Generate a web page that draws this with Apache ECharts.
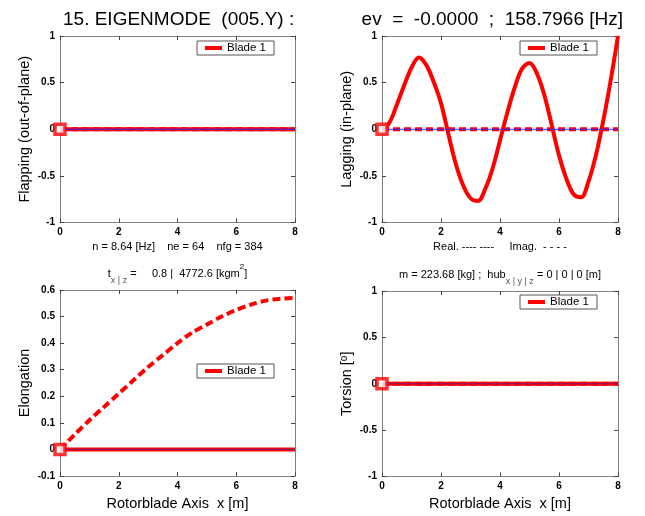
<!DOCTYPE html>
<html>
<head>
<meta charset="utf-8">
<script src="https://cdn.jsdelivr.net/npm/echarts@6/dist/echarts.min.js"></script>
<style>
html,body{margin:0;padding:0;background:#fff;}
#chart{width:645px;height:516px;}
</style>
</head>
<body>
<div id="chart"></div>
<script>
// ---- data ----
const xTicks = [0, 2, 4, 6, 8];
const zeroX = [0, 8];
const zeroY = [0, 0];
const markerX = [0];
const markerY = [0];
// Lagging (in-plane), real part
const lagX = [0, 0.25, 0.5, 0.75, 1.0, 1.25, 1.5, 1.75, 2.0, 2.25, 2.5, 2.75, 3.0, 3.25, 3.5, 3.75, 4.0,
              4.25, 4.5, 4.75, 5.0, 5.25, 5.5, 5.75, 6.0, 6.25, 6.5, 6.75, 7.0, 7.25, 7.5, 7.75, 8.0];
const lagReal = [0, 0.07, 0.26, 0.47, 0.66, 0.77, 0.69, 0.51, 0.28, -0.05, -0.37, -0.60, -0.74, -0.77, -0.64, -0.42, -0.12,
                 0.18, 0.45, 0.65, 0.71, 0.60, 0.37, 0.05, -0.28, -0.53, -0.70, -0.73, -0.56, -0.28, 0.09, 0.52, 1.0];
// Elongation, imaginary part (dashed)
const elongX = [0, 0.5, 1.0, 1.5, 2.0, 2.5, 3.0, 3.5, 4.0, 4.5, 5.0, 5.5, 6.0, 6.5, 7.0, 7.5, 8.0];
const elongImag = [0, 0.056, 0.11, 0.16, 0.21, 0.26, 0.31, 0.355, 0.40, 0.44, 0.47, 0.50, 0.525, 0.545, 0.56, 0.567, 0.57];

const yLabels = ['Flapping (out-of-plane)', 'Lagging (in-plane)', 'Elongation', 'Torsion [{sup|o}]'];

// ---- helpers ----
const FONT = 'Liberation Sans, Arial, Helvetica, sans-serif';
const RED = '#ff0000';
const pair = (xs, ys) => xs.map((x, i) => [x, ys[i]]);

const grids = [
  {left: 60, top: 36, width: 235, height: 186.5},
  {left: 382, top: 36, width: 236, height: 186.5},
  {left: 60, top: 290, width: 235, height: 186},
  {left: 382, top: 291, width: 236, height: 185.5}
];
const yRanges = [[-1, 1, 0.5], [-1, 1, 0.5], [-0.1, 0.6, 0.1], [-1, 1, 0.5]];

const axLine = {show: true, onZero: false, lineStyle: {color: '#808080', width: 1}};
const axTick = {show: true, inside: true, length: 4, lineStyle: {color: '#444', width: 1}};
const tickLbl = {fontFamily: FONT, fontSize: 10, fontWeight: 'bold', color: '#000'};

const xAxes = [], yAxes = [];
const bottomNames = [
  'n = 8.64 [Hz]    ne = 64    nfg = 384',
  'Real. ---- ----     Imag.  - - - -',
  'Rotorblade Axis  x [m]',
  'Rotorblade Axis  x [m]'
];
const topNames = [
  '', '',
  '{n|t}{s|x | z}{n| =     0.8 |  4772.6 [kgm}{p|2}{n|]}',
  '{n|m = 223.68 [kg] ;  hub}{s|x | y | z}{n| = 0 | 0 | 0 [m]}'
];
const richSub = {
  n: {fontFamily: FONT, fontSize: 11, color: '#000', lineHeight: 22, verticalAlign: 'middle'},
  s: {fontFamily: FONT, fontSize: 9, color: '#555', lineHeight: 9, verticalAlign: 'bottom'},
  p: {fontFamily: FONT, fontSize: 8, color: '#000', lineHeight: 11, verticalAlign: 'top'}
};
for (let g = 0; g < 4; g++) {
  const big = g >= 2;
  xAxes.push({
    gridIndex: g, type: 'value', position: 'bottom', min: 0, max: 8, interval: 2,
    axisLine: axLine, axisTick: axTick, splitLine: {show: false},
    axisLabel: Object.assign({margin: 5}, tickLbl),
    name: bottomNames[g], nameLocation: 'middle', nameGap: big ? 20 : 19,
    nameTextStyle: {fontFamily: FONT, fontSize: big ? 14.5 : 11, color: '#000'}
  });
  xAxes.push({
    gridIndex: g, type: 'value', position: 'top', min: 0, max: 8, interval: 2,
    axisLine: axLine, axisTick: axTick, splitLine: {show: false}, axisLabel: {show: false},
    name: topNames[g], nameLocation: 'middle', nameGap: 5,
    nameTextStyle: {rich: richSub}
  });
  const [mn, mx, iv] = yRanges[g];
  yAxes.push({
    gridIndex: g, type: 'value', position: 'left', min: mn, max: mx, interval: iv,
    axisLine: axLine, axisTick: axTick, splitLine: {show: false},
    axisLabel: Object.assign({margin: 5}, tickLbl),
    name: yLabels[g], nameLocation: 'middle', nameGap: 28, nameRotate: 90,
    nameTextStyle: {fontFamily: FONT, fontSize: 14.5, color: '#000',
      rich: {sup: {fontFamily: FONT, fontSize: 10, color: '#000', verticalAlign: 'top', lineHeight: 10}}}
  });
  yAxes.push({
    gridIndex: g, type: 'value', position: 'right', min: mn, max: mx, interval: iv,
    axisLine: axLine, axisTick: axTick, splitLine: {show: false}, axisLabel: {show: false}
  });
}

const series = [];
function lineS(g, name, data, style, z) {
  series.push({
    type: 'line', name: name, xAxisIndex: g * 2, yAxisIndex: g * 2, data: data,
    showSymbol: false, symbol: 'none', smooth: style.smooth || false, clip: false,
    itemStyle: {color: style.color}, lineStyle: style.lineStyle, z: z, silent: true
  });
}
function axisS(g, color) {
  lineS(g, 'axis' + g, pair(zeroX, zeroY), {color: color, lineStyle: {color: color, width: 1}}, 5);
}
function markerS(g) {
  series.push({
    type: 'scatter', name: 'start' + g, xAxisIndex: g * 2, yAxisIndex: g * 2,
    data: pair(markerX, markerY), symbol: 'rect', symbolSize: 10, clip: false,
    itemStyle: {color: '#fff', borderColor: RED, borderWidth: 3.5}, z: 10, silent: true
  });
}
const solid = {color: RED, lineStyle: {color: RED, width: 4, type: 'solid'}};
const dashed = {color: RED, lineStyle: {color: RED, width: 4, type: [7, 4]}};

// Flapping
lineS(0, 'imag0', pair(zeroX, zeroY), dashed, 3);
lineS(0, 'Blade 1', pair(zeroX, zeroY), solid, 4);
axisS(0, '#2a2aff');
markerS(0);
// Lagging
lineS(1, 'imag1', pair(zeroX, zeroY), dashed, 3);
lineS(1, 'Blade 1', pair(lagX, lagReal), Object.assign({smooth: 0.35}, solid), 4);
axisS(1, '#2a2aff');
markerS(1);
// Elongation
lineS(2, 'imag2', pair(elongX, elongImag), Object.assign({smooth: 0.3}, {color: RED, lineStyle: {color: RED, width: 4, type: [8, 4]}}), 3);
lineS(2, 'Blade 1', pair(zeroX, zeroY), solid, 4);
axisS(2, '#7a1a70');
markerS(2);
// Torsion
lineS(3, 'imag3', pair(zeroX, zeroY), dashed, 3);
lineS(3, 'Blade 1', pair(zeroX, zeroY), solid, 4);
axisS(3, '#7a1a70');
markerS(3);

const legendPos = [[197, 41], [520, 41], [197, 364], [520, 295]];
const legends = legendPos.map(p => ({
  left: p[0], top: p[1], data: ['Blade 1'], selectedMode: false,
  icon: 'rect', itemWidth: 17, itemHeight: 4, itemGap: 6,
  padding: [1, 8, 1, 8], borderColor: '#555', borderWidth: 1, backgroundColor: '#fff',
  textStyle: {fontFamily: FONT, fontSize: 11.5, color: '#000'}
}));

const chart = echarts.init(document.getElementById('chart'), null, {renderer: 'canvas'});
chart.setOption({
  animation: false,
  backgroundColor: '#fff',
  title: [
    {text: '15. EIGENMODE  (005.Y) :', left: 58, top: 5,
     textStyle: {fontFamily: FONT, fontSize: 19, fontWeight: 'normal', color: '#000'}},
    {text: 'ev  =  -0.0000  ;  158.7966 [Hz]', right: 17, top: 5,
     textStyle: {fontFamily: FONT, fontSize: 19, fontWeight: 'normal', color: '#000'}}
  ],
  grid: grids.map(g => Object.assign({show: false}, g)),
  xAxis: xAxes,
  yAxis: yAxes,
  legend: legends,
  series: series
});
</script>
</body>
</html>
